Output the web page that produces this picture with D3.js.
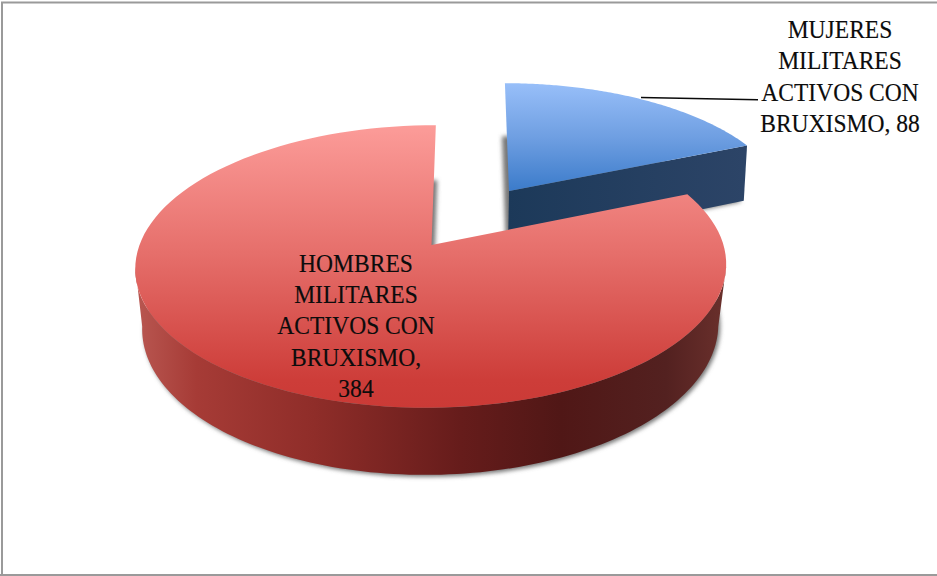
<!DOCTYPE html>
<html>
<head>
<meta charset="utf-8">
<script src="https://cdn.jsdelivr.net/npm/d3@7/dist/d3.min.js"></script>
<style>
  html, body { margin: 0; padding: 0; background: #fff; }
  svg { display: block; }
  text { font-family: "Liberation Serif", serif; font-size: 25.6px; fill: #0c0c0c; stroke: #0c0c0c; stroke-width: 0.15px; text-anchor: middle; }
</style>
</head>
<body>
<svg id="chart" width="937" height="576"></svg>
<script>
// Counts of active-duty personnel with bruxism
const categories = ["MUJERES MILITARES ACTIVOS CON BRUXISMO", "HOMBRES MILITARES ACTIVOS CON BRUXISMO"];
const values = [88, 384];
const labelLines = [
  ["MUJERES", "MILITARES", "ACTIVOS CON", "BRUXISMO, " + values[0]],
  ["HOMBRES", "MILITARES", "ACTIVOS CON", "BRUXISMO,", String(values[1])]
];

const width = 937, height = 576;
const svg = d3.select("#chart");
const defs = svg.append("defs");

// Perspective disc: unit circle on the table plane, foreshortened toward the back
const persp = 0.152, radiusX = 292, radiusY = 138;
function rim(theta, g) {
  const u = Math.sin(theta), v = -Math.cos(theta), w = 1 - persp * v;
  return [g.cx + g.sx * (radiusX * u + g.shear * v) / w, g.cy + g.sy * radiusY * v / w];
}
const hub = g => [g.cx, g.cy];

// Each slice has an upper face and a lower face, pulled apart from the centre
const planes = [
  { top: { cx: 509, cy: 191, sx: 0.944, sy: 0.90, shear: 5 },
    bottom: { cx: 508, cy: 249, sx: 0.935, sy: 0.95, shear: 5 } },
  { top: { cx: 431.5, cy: 245, sx: 1, sy: 1, shear: -5 },
    bottom: { cx: 431, cy: 304, sx: 0.975, sy: 1.05, shear: -5 } }
];

const slices = d3.pie().sort(null)(values);
const sampleArc = (a0, a1) => d3.range(0, 121).map(i => a0 + (a1 - a0) * i / 120);
const line = d3.line();

function sectorPath(s, g) {
  return line([hub(g), ...sampleArc(s.startAngle, s.endAngle).map(t => rim(t, g))]) + "Z";
}

function gradient(id, horizontal, from, to, stops) {
  const grad = defs.append("linearGradient").attr("id", id).attr("gradientUnits", "userSpaceOnUse")
    .attr("x1", horizontal ? from : 0).attr("x2", horizontal ? to : 0)
    .attr("y1", horizontal ? 0 : from).attr("y2", horizontal ? 0 : to);
  stops.forEach(([o, c]) => grad.append("stop").attr("offset", o).attr("stop-color", c));
}
gradient("redFace", false, 125, 408, [[0, "#fc9c99"], [0.45, "#e66f6b"], [0.9, "#cd3d39"], [1, "#cb3a36"]]);
gradient("blueFace", false, 83, 191, [[0, "#98bff9"], [0.5, "#6f9fe2"], [1, "#3b7bca"]]);
gradient("redWall", true, 138, 725, [[0, "#b85650"], [0.1, "#a63b36"], [0.3, "#8f2d29"], [0.55, "#661c1b"], [0.72, "#501716"], [0.9, "#532120"], [1, "#6a302c"]]);
gradient("blueWall", true, 507, 745, [[0, "#1c3959"], [1, "#2c4467"]]);

const soft = defs.append("filter").attr("id", "soft")
  .attr("x", "-10%").attr("y", "-10%").attr("width", "120%").attr("height", "120%");
soft.append("feGaussianBlur").attr("stdDeviation", 2.2);

// Chart frame (left, top and bottom edges)
svg.append("path")
  .attr("d", "M2,576V2.5H937M0,575H937")
  .attr("fill", "none").attr("stroke", "#9a9a9a").attr("stroke-width", 2);

const shadows = svg.append("g").attr("filter", "url(#soft)");
shadows.selectAll("path").data(slices).join("path")
  .attr("d", d => sectorPath(d, planes[d.index].bottom))
  .attr("transform", d => d.index === 0 ? "translate(-2,1)" : "translate(2,2)")
  .attr("fill", "#777");

// Blue slice: cut face toward the viewer, then its upper face
const blue = slices[0], bluePlane = planes[0];
svg.append("path")
  .attr("d", line([hub(bluePlane.top), rim(blue.endAngle, bluePlane.top),
                   rim(blue.endAngle, bluePlane.bottom), hub(bluePlane.bottom)]) + "Z")
  .attr("fill", "url(#blueWall)");
svg.append("path").attr("d", sectorPath(blue, bluePlane.top)).attr("fill", "url(#blueFace)");

// Red slice: outer wall along the near side of the rim, then its upper face
const red = slices[1], redPlane = planes[1];
const nearFrom = Math.max(red.startAngle, Math.PI - Math.acos(persp));
const nearTo = Math.min(red.endAngle, Math.PI + Math.acos(persp));
const nearAngles = sampleArc(nearFrom, nearTo);
svg.append("path")
  .attr("d", line([...nearAngles.map(t => rim(t, redPlane.top)),
                   ...nearAngles.slice().reverse().map(t => rim(t, redPlane.bottom))]) + "Z")
  .attr("fill", "url(#redWall)");
svg.append("path").attr("d", sectorPath(red, redPlane.top)).attr("fill", "url(#redFace)");

// Leader from the blue slice to its label
svg.append("path").attr("d", "M641,97.5L758,99.8").attr("fill", "none").attr("stroke", "#0a0a0a").attr("stroke-width", 1.6);

// Data labels, condensed slightly to sit in their original line widths
const labelAnchors = [{ x: 840, y: 37.5, step: 31.6 }, { x: 356, y: 272, step: 31.2 }];
svg.selectAll("g.label").data(labelLines).join("g").attr("class", "label")
  .each(function (lines, i) {
    d3.select(this).selectAll("text").data(lines).join("text")
      .attr("transform", (d, j) =>
        `translate(${labelAnchors[i].x},${labelAnchors[i].y + j * labelAnchors[i].step}) scale(0.92,1)`)
      .text(d => d);
  });
</script>
</body>
</html>
